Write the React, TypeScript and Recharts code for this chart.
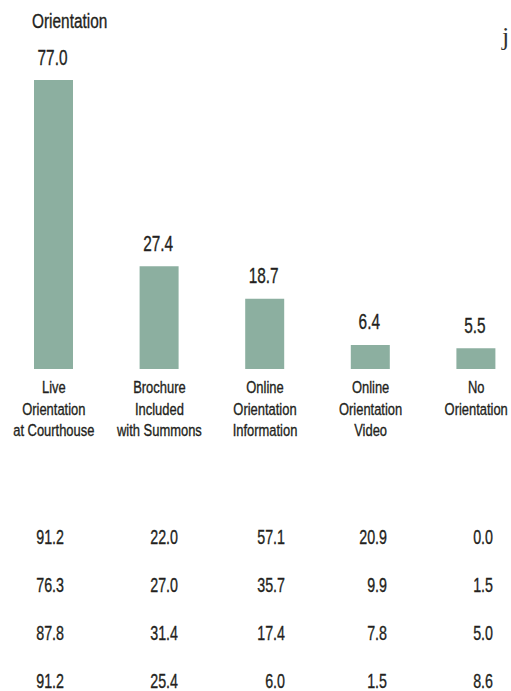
import React from "react";
import { BarChart, Bar, XAxis, YAxis, LabelList } from "recharts";

const categories = [
  "Live\nOrientation\nat Courthouse",
  "Brochure\nIncluded\nwith Summons",
  "Online\nOrientation\nInformation",
  "Online\nOrientation\nVideo",
  "No\nOrientation",
];
const values = [77.0, 27.4, 18.7, 6.4, 5.5];

const tableRows = [
  ["91.2", "22.0", "57.1", "20.9", "0.0"],
  ["76.3", "27.0", "35.7", "9.9", "1.5"],
  ["87.8", "31.4", "17.4", "7.8", "5.0"],
  ["91.2", "25.4", "6.0", "1.5", "8.6"],
];

const FONT = "'Liberation Sans', Arial, sans-serif";
const INK = "#231f20";
const BAR = "#8cafa0";

const data = categories.map((name, i) => ({ name, value: values[i] }));

// condensed text: normal font squeezed horizontally around its anchor
function NarrowText(props: any) {
  const { x, y, sx, size, anchor, children } = props;
  return (
    <text
      transform={`translate(${x} ${y}) scale(${sx} 1)`}
      x={0}
      y={0}
      textAnchor={anchor || "start"}
      fill={INK}
      stroke={INK}
      strokeWidth={0.35}
      fontFamily={FONT}
      fontSize={size}
    >
      {children}
    </text>
  );
}

function CategoryTick(props: any) {
  const { x, y, payload } = props;
  const lines = String(payload.value).split("\n");
  return (
    <g>
      {lines.map((l, i) => (
        <NarrowText key={i} x={x} y={y + 16 + i * 21.7} sx={0.77} size={16.8} anchor="middle">
          {l}
        </NarrowText>
      ))}
    </g>
  );
}

function ValueLabel(props: any) {
  const { x, y, width, value } = props;
  return (
    <NarrowText x={x + width / 2 - 1} y={y - 15.5} sx={0.69} size={22.3} anchor="middle">
      {Number(value).toFixed(1)}
    </NarrowText>
  );
}

const colRight = [64, 178, 285, 387, 493];
const rowBase = [544, 592, 640, 688];

export default function App() {
  return (
    <div
      style={{
        position: "absolute",
        left: 0,
        top: 0,
        width: 511,
        height: 691,
        overflow: "hidden",
        background: "#fff",
      }}
    >
      <div style={{ position: "absolute", left: 0, top: 0 }}>
        <BarChart width={530} height={480} data={data} margin={{ top: 80, right: 1, bottom: 0, left: 1 }}>
          <XAxis
            dataKey="name"
            interval={0}
            axisLine={false}
            tickLine={false}
            height={111}
            tick={<CategoryTick />}
          />
          <YAxis hide domain={[0, 77]} />
          <Bar dataKey="value" fill={BAR} barSize={39} isAnimationActive={false}>
            <LabelList dataKey="value" content={<ValueLabel />} />
          </Bar>
        </BarChart>
      </div>
      <svg width={511} height={691} style={{ position: "absolute", left: 0, top: 0, pointerEvents: "none" }}>
        <NarrowText x={32} y={28} sx={0.79} size={19.5}>
          Orientation
        </NarrowText>
        <text x={502} y={45} fontFamily="'Liberation Serif', serif" fontSize={26} fill="#333">
          j
        </text>
        {tableRows.map((row, r) =>
          row.map((v, c) => (
            <NarrowText key={`${r}-${c}`} x={colRight[c]} y={rowBase[r]} sx={0.68} size={21} anchor="end">
              {v}
            </NarrowText>
          ))
        )}
      </svg>
    </div>
  );
}
